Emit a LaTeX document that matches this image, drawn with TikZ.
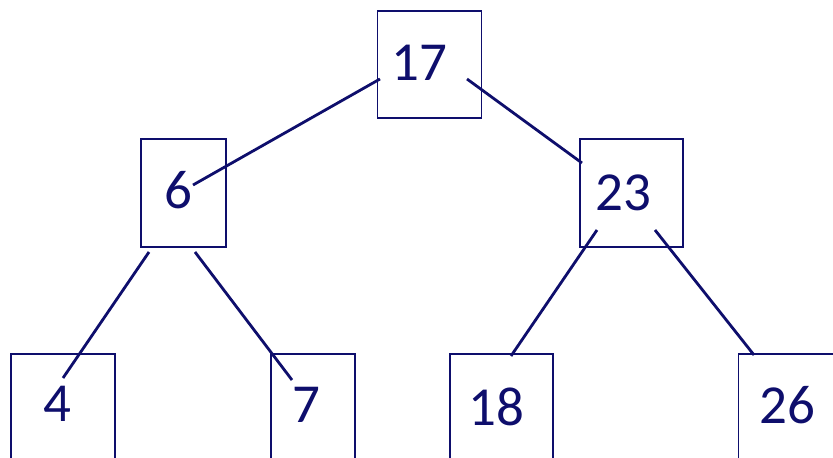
\documentclass[tikz,border=0pt]{standalone}
\usepackage{fontspec}
\setmainfont{Carlito}
\definecolor{navy}{RGB}{14,14,108}
\begin{document}
\begin{tikzpicture}[x=1pt,y=-1pt,
  keybox/.style={draw=navy,line width=1.9pt,inner sep=0pt,anchor=north west},
  keytext/.style={text=navy,font=\fontsize{55}{60}\selectfont,anchor=base,inner sep=0pt},
  edge/.style={draw=navy,line width=2.8pt}]
\clip (0,0) rectangle (833,458);
\useasboundingbox (0,0) rectangle (833,458);
% boxes
\node[keybox,minimum width=104pt,minimum height=107pt] (b17) at (376.5,10) {};
\node[keybox,minimum width=85pt,minimum height=108pt] (b6) at (140,138) {};
\node[keybox,minimum width=103pt,minimum height=108pt] (b23) at (579,138) {};
\node[keybox,minimum width=104pt,minimum height=130pt] (b4) at (10,353) {};
\node[keybox,minimum width=84pt,minimum height=130pt] (b7) at (270,353) {};
\node[keybox,minimum width=103pt,minimum height=130pt] (b18) at (449,353) {};
\node[keybox,minimum width=120pt,minimum height=130pt] (b26) at (737.5,353) {};
% keys
\node[keytext] (t17) at (419,80) {17};
\node[keytext] (t6) at (178,208) {6};
\node[keytext] (t23) at (623,210) {23};
\node[keytext] (t4) at (57,421) {4};
\node[keytext] (t7) at (306,422) {7};
\node[keytext] (t18) at (496,425) {18};
\node[keytext] (t26) at (787,423) {26};
% connector ends
\coordinate (r17w) at (380,79);
\coordinate (r17e) at (467,79);
\coordinate (c6n) at (193,185);
\coordinate (c23n) at (582,163);
\coordinate (c6l) at (149,252);
\coordinate (c6r) at (195,252);
\coordinate (c23l) at (597,230);
\coordinate (c23r) at (655,230);
\coordinate (c4) at (63,378);
\coordinate (c7) at (292,380);
\coordinate (c18) at (511,356);
\coordinate (c26) at (754,355);
% tree edges
\draw[edge] (r17w) -- (c6n);
\draw[edge] (r17e) -- (c23n);
\draw[edge] (c6l) -- (c4);
\draw[edge] (c6r) -- (c7);
\draw[edge] (c23l) -- (c18);
\draw[edge] (c23r) -- (c26);
\end{tikzpicture}
\end{document}
